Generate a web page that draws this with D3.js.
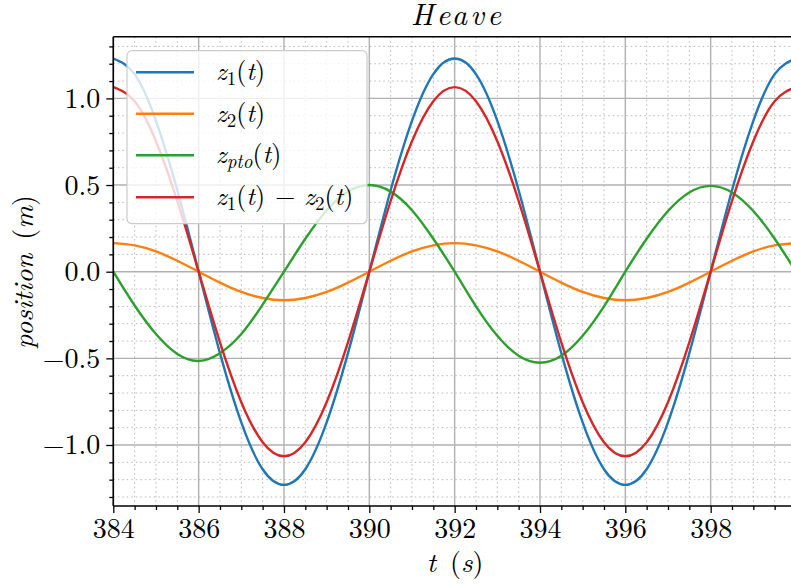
<!DOCTYPE html>
<html>
<head>
<meta charset="utf-8">
<script src="https://cdn.jsdelivr.net/npm/d3@7"></script>
<style>
  html, body { margin: 0; padding: 0; background: #fff; overflow: hidden; }
  svg { display: block; }
</style>
</head>
<body>
<svg id="chart" width="791" height="585"></svg>
<script>
// ---- data ----
const time = [384,384.5,385,385.5,386,386.5,387,387.5,388,388.5,389,389.5,390,390.5,391,391.5,392,392.5,393,393.5,394,394.5,395,395.5,396,396.5,397,397.5,398,398.5,399,399.5,400];
const z1 = [1.23,1.14,0.87,0.47,0.00,-0.47,-0.87,-1.14,-1.23,-1.14,-0.87,-0.47,0.00,0.47,0.87,1.14,1.23,1.14,0.87,0.47,0.00,-0.47,-0.87,-1.14,-1.23,-1.14,-0.87,-0.47,0.00,0.47,0.87,1.14,1.23];
const z2 = [0.165,0.152,0.117,0.063,0.000,-0.063,-0.117,-0.152,-0.165,-0.152,-0.117,-0.063,0.000,0.063,0.117,0.152,0.165,0.152,0.117,0.063,0.000,-0.063,-0.117,-0.152,-0.165,-0.152,-0.117,-0.063,0.000,0.063,0.117,0.152,0.165];
const zpto = [0.00,-0.195,-0.36,-0.475,-0.515,-0.47,-0.36,-0.19,0.00,0.19,0.355,0.462,0.50,0.462,0.355,0.19,0.00,-0.20,-0.37,-0.485,-0.525,-0.485,-0.37,-0.20,0.00,0.19,0.35,0.457,0.495,0.457,0.35,0.19,0.00];
const zdiff = [1.065,0.984,0.753,0.408,0.000,-0.408,-0.753,-0.984,-1.065,-0.984,-0.753,-0.408,0.000,0.408,0.753,0.984,1.065,0.984,0.753,0.408,0.000,-0.408,-0.753,-0.984,-1.065,-0.984,-0.753,-0.408,0.000,0.408,0.753,0.984,1.065];

const xTicks = [384,386,388,390,392,394,396,398];
const xMinor = [384.5,385,385.5,386.5,387,387.5,388.5,389,389.5,390.5,391,391.5,392.5,393,393.5,394.5,395,395.5,396.5,397,397.5,398.5,399,399.5];
const yTicks = [-1.0,-0.5,0.0,0.5,1.0];
const yMinor = [-1.3,-1.2,-1.1,-0.9,-0.8,-0.7,-0.6,-0.4,-0.3,-0.2,-0.1,0.1,0.2,0.3,0.4,0.6,0.7,0.8,0.9,1.1,1.2,1.3];

const seriesNames = ["z1", "z2", "zpto", "zdiff"];
const seriesValues = [z1, z2, zpto, zdiff];
const seriesColors = ["#1f77b4", "#ff7f0e", "#2ca02c", "#d62728"];

const FONT = '"Latin Modern Roman", "Liberation Serif", serif';

// ---- layout ----
const L = 113.3, R = 796, T = 36.7, B = 506;
const svg = d3.select("#chart");
const x = d3.scaleLinear().domain([384, 400]).range([L, R]);
const y = d3.scaleLinear().domain([-1.352, 1.356]).range([B, T]);

svg.append("defs").append("clipPath").attr("id", "clip")
  .append("rect").attr("x", L).attr("y", T).attr("width", R - L).attr("height", B - T);

// minor grid (dotted)
const grid = svg.append("g");
grid.selectAll(".vmin").data(xMinor).join("line")
  .attr("x1", d => x(d)).attr("x2", d => x(d)).attr("y1", T).attr("y2", B)
  .attr("stroke", "#b8b8b8").attr("stroke-width", 1).attr("stroke-dasharray", "1.5,3");
grid.selectAll(".hmin").data(yMinor).join("line")
  .attr("y1", d => y(d)).attr("y2", d => y(d)).attr("x1", L).attr("x2", R)
  .attr("stroke", "#b8b8b8").attr("stroke-width", 1).attr("stroke-dasharray", "1.5,3");
// major grid
grid.selectAll(".vmaj").data(xTicks).join("line")
  .attr("x1", d => x(d)).attr("x2", d => x(d)).attr("y1", T).attr("y2", B)
  .attr("stroke", "#b0b0b0").attr("stroke-width", 1.4);
grid.selectAll(".hmaj").data(yTicks).join("line")
  .attr("y1", d => y(d)).attr("y2", d => y(d)).attr("x1", L).attr("x2", R)
  .attr("stroke", "#b0b0b0").attr("stroke-width", 1.4);

// lines
const line = d3.line().curve(d3.curveNatural);
const lines = svg.append("g").attr("clip-path", "url(#clip)");
seriesValues.forEach((vals, i) => {
  lines.append("path")
    .attr("d", line(time.map((t, j) => [x(t), y(vals[j])])))
    .attr("fill", "none").attr("stroke", seriesColors[i]).attr("stroke-width", 2.4);
});

// axes
const fmtY = d => (d < 0 ? "\u2212" : "") + Math.abs(d).toFixed(1);
const xAxis = svg.append("g").attr("transform", `translate(0,${B})`)
  .call(d3.axisBottom(x).tickValues(xTicks).tickFormat(d3.format("d")).tickSize(7).tickPadding(5));
svg.append("g").attr("transform", `translate(0,${B})`)
  .call(d3.axisBottom(x).tickValues(xMinor).tickFormat("").tickSize(4));
const yAxis = svg.append("g").attr("transform", `translate(${L},0)`)
  .call(d3.axisLeft(y).tickValues(yTicks).tickFormat(fmtY).tickSize(7).tickPadding(6));
svg.append("g").attr("transform", `translate(${L},0)`)
  .call(d3.axisLeft(y).tickValues(yMinor).tickFormat("").tickSize(4));
svg.selectAll(".domain").remove();
svg.selectAll(".tick line").attr("stroke", "#000").attr("stroke-width", 1.3);
svg.selectAll(".tick text").style("font-family", FONT).style("font-size", "28px").attr("fill", "#000");

// spines
svg.append("line").attr("x1", L).attr("x2", L).attr("y1", T).attr("y2", B).attr("stroke", "#000").attr("stroke-width", 1.6);
svg.append("line").attr("x1", L).attr("x2", R).attr("y1", B).attr("y2", B).attr("stroke", "#000").attr("stroke-width", 1.6);
svg.append("line").attr("x1", L).attr("x2", R).attr("y1", T).attr("y2", T).attr("stroke", "#000").attr("stroke-width", 1.6);
svg.append("line").attr("x1", R).attr("x2", R).attr("y1", T).attr("y2", B).attr("stroke", "#000").attr("stroke-width", 1.6);

// legend
const lg = svg.append("g");
lg.append("rect").attr("x", 127).attr("y", 50.7).attr("width", 240).attr("height", 173).attr("rx", 5)
  .attr("fill", "#fff").attr("fill-opacity", 0.8).attr("stroke", "#cccccc").attr("stroke-width", 1.2);
const rowsY = [72.3, 113.7, 155.3, 197.3];
const legendLabels = [
  [["z","i"],["1","sub"],["(","r"],["t","i"],[")","r"]],
  [["z","i"],["2","sub"],["(","r"],["t","i"],[")","r"]],
  [["z","i"],["pto","subi"],["(","r"],["t","i"],[")","r"]],
  [["z","i"],["1","sub"],["(","r"],["t","i"],[")","r"],["\u2212","op"],["z","i2"],["2","sub"],["(","r"],["t","i"],[")","r"]]
];
seriesNames.forEach((n, i) => {
  lg.append("line").attr("x1", 136).attr("x2", 194).attr("y1", rowsY[i]).attr("y2", rowsY[i])
    .attr("stroke", seriesColors[i]).attr("stroke-width", 2.4);
  const tx = lg.append("text").attr("x", 216).attr("y", rowsY[i] + 8)
    .style("font-family", FONT).style("font-size", "26px");
  let prevSub = false;
  legendLabels[i].forEach(([s, k]) => {
    const ts = tx.append("tspan").text(s);
    if (k === "i" || k === "subi" || k === "i2") ts.attr("font-style", "italic");
    if (k === "op") ts.attr("dx", 10);
    if (k === "i2") ts.attr("dx", 9);
    if (k === "sub" || k === "subi") {
      ts.style("font-size", "19px").attr("dy", 5);
      prevSub = true;
    } else if (prevSub) {
      ts.attr("dy", -5);
      prevSub = false;
    }
  });
});

// title and axis labels
svg.append("text").attr("x", 456).attr("y", 25).attr("text-anchor", "middle")
  .style("font-family", FONT).style("font-size", "30px").attr("font-style", "italic")
  .attr("textLength", 90).attr("lengthAdjust", "spacing").text("Heave");
const xl = svg.append("text").attr("x", 455).attr("y", 572).attr("text-anchor", "middle")
  .style("font-family", FONT).style("font-size", "28px");
xl.append("tspan").attr("font-style", "italic").text("t");
xl.append("tspan").text("\u2002(");
xl.append("tspan").attr("font-style", "italic").text("s");
xl.append("tspan").text(")");
const yl = svg.append("text").attr("transform", "translate(33,272) rotate(-90)").attr("text-anchor", "middle")
  .style("font-family", FONT).style("font-size", "28px");
yl.append("tspan").attr("font-style", "italic").text("position");
yl.append("tspan").text("\u2002(");
yl.append("tspan").attr("font-style", "italic").text("m");
yl.append("tspan").text(")");
</script>
</body>
</html>
